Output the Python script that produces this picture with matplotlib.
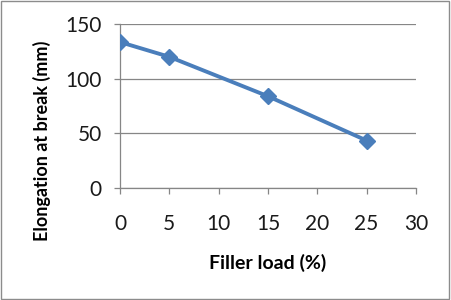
import matplotlib
matplotlib.use("Agg")
import matplotlib.pyplot as plt
from matplotlib.patches import Rectangle

# data
filler_load = [0, 5, 15, 25]
elongation = [133.5, 120, 84, 43.5]
x_ticks = [0, 5, 10, 15, 20, 25, 30]
y_ticks = [0, 50, 100, 150]

plt.rcParams['font.family'] = ['Lato', 'DejaVu Sans']

fig = plt.figure(figsize=(4.51, 3.0), dpi=100)
ax = fig.add_axes([0.266, 0.373, 0.656, 0.547])

ax.plot(filler_load, elongation, color='#4A7EBB', lw=2.8,
        marker='D', markersize=8.5, markerfacecolor='#4A7EBB',
        markeredgecolor='#4A7EBB', zorder=3)

ax.set_xlim(0, 30)
ax.set_ylim(0, 150)
ax.set_xticks(x_ticks)
ax.set_yticks(y_ticks)
ax.yaxis.grid(True, color='#868686', lw=0.9)
ax.set_axisbelow(True)

for side in ['top', 'right']:
    ax.spines[side].set_visible(False)
for side in ['left', 'bottom']:
    ax.spines[side].set_color('#868686')
    ax.spines[side].set_linewidth(0.9)

ax.tick_params(axis='both', colors='#868686', length=4, width=0.9,
               labelsize=15, labelcolor='#1a1a1a')
ax.tick_params(axis='x', pad=15)
ax.tick_params(axis='y', pad=9)

ax.set_xlabel('Filler load (%)', fontsize=14, fontweight='bold')
ax.set_ylabel('Elongation at break (mm)', fontsize=13, fontweight='bold')
# Excel centres the titles on the chart area, not on the plot area
ax.xaxis.set_label_coords(0.5, -0.40)
ax.yaxis.set_label_coords(-0.232, 0.29)

# chart area border
fig.patches.append(Rectangle((0.002, 0.003), 0.994, 0.993, transform=fig.transFigure,
                             fill=False, edgecolor='#8C8C8C', lw=1.0))

fig.savefig('out.png', dpi=100)
